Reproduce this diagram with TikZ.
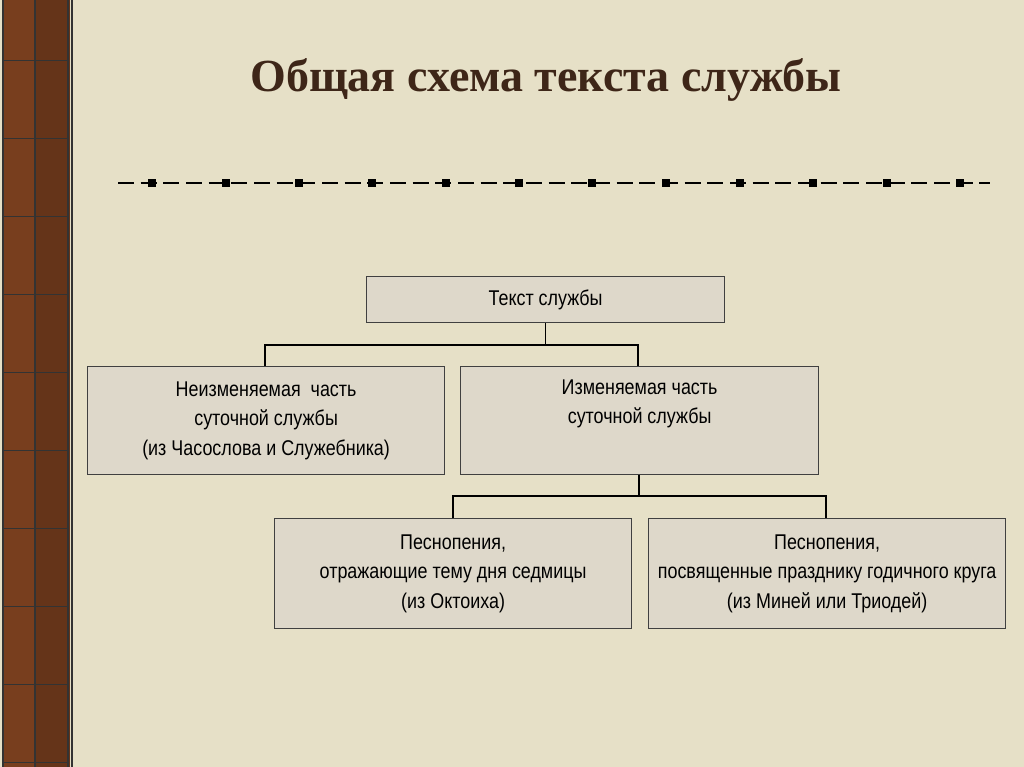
\documentclass[tikz,border=0pt]{standalone}
\usepackage{fontspec}
\setmainfont{Liberation Serif}
\newfontfamily\boxfont[FakeStretch=0.84]{Liberation Sans}
\begin{document}
\begin{tikzpicture}[x=0.75pt,y=-0.75pt,
  bx/.style={draw=black!75, line width=0.9pt, fill=boxfill, align=center, font=\boxfont\fontsize{16}{22}\selectfont, inner sep=0pt, anchor=north west},
  conn/.style={draw=black, line width=1pt}]
\definecolor{bg}{RGB}{230,224,199}
\definecolor{boxfill}{RGB}{222,216,202}
\definecolor{strip}{RGB}{120,62,30}
\definecolor{titlec}{RGB}{62,38,24}
\useasboundingbox (0,0) rectangle (1024,767);
\fill[bg] (0,0) rectangle (1024,767);
\fill[strip] (2,0) rectangle (70,767);
\fill[strip!70!black,opacity=0.5] (35,0) rectangle (70,767);
\draw[black!80, line width=0.8pt] (3,0) -- (3,767) (35,0) -- (35,767) (68,0) -- (68,767) (72,0) -- (72,767);
\foreach \y in {60,138,216,294,372,450,528,606,684,762} \draw[black!80, line width=0.6pt] (3,\y) -- (68,\y);
\node[font=\bfseries\fontsize{34.5}{40}\selectfont, text=titlec] (title) at (546,80) {Общая схема текста службы};
\draw[line width=1.3pt, dash pattern=on 12pt off 5pt] (118,183) -- (990,183);
\foreach \x in {152,226,299,372,446,519,592,666,740,813,887,960} \fill (\x-4,179) rectangle (\x+4,187);
\node[bx, minimum width=358*0.75pt, minimum height=46*0.75pt] (top) at (366,276) {Текст службы};
\node[bx, minimum width=357*0.75pt, minimum height=108*0.75pt] (l) at (87,366) {Неизменяемая\ \ часть\\суточной службы\\(из Часослова и Служебника)};
\node[bx, minimum width=358*0.75pt, minimum height=108*0.75pt] (r) at (460,366) {Изменяемая часть\\суточной службы\\ \strut};
\node[bx, minimum width=357*0.75pt, minimum height=110*0.75pt] (bl) at (274,518) {Песнопения,\\отражающие тему дня седмицы\\(из Октоиха)};
\node[bx, minimum width=357*0.75pt, minimum height=110*0.75pt] (br) at (648,518) {Песнопения,\\посвященные празднику годичного круга\\(из Миней или Триодей)};
\coordinate (j1) at (top.south |- 0,345);
\draw[conn] (top.south) -- (j1);
\draw[conn] (l.north -| 265,0) |- (j1) -| (r.north -| 638,0);
\coordinate (j2) at (639,496);
\draw[conn] (r.south -| j2) -- (j2);
\draw[conn] (bl.north -| 453,0) |- (j2) -| (br.north -| 826,0);
\end{tikzpicture}
\end{document}
